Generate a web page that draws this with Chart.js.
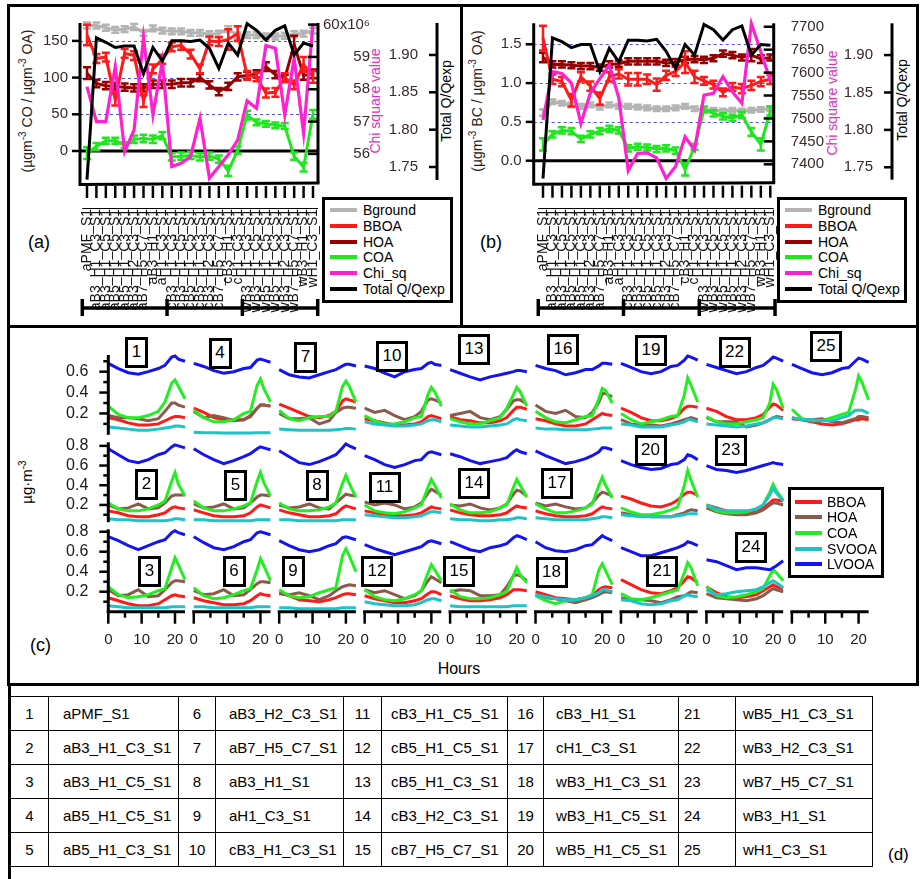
<!DOCTYPE html>
<html>
<head>
<meta charset="utf-8">
<title>PMF solution diagnostics</title>
<script src="https://cdn.jsdelivr.net/npm/chart.js@4.4.1/dist/chart.umd.min.js"></script>
<style>
  html,body{margin:0;padding:0;background:#fff;}
  body{position:relative;width:922px;height:879px;overflow:hidden;font-family:"Liberation Sans",Arial,sans-serif;color:#000;}
  canvas{position:absolute;display:block;}
  .frame{position:absolute;border:3px solid #000;box-sizing:border-box;}
  .lbl{position:absolute;white-space:nowrap;line-height:1;}
  .vt{position:absolute;white-space:nowrap;line-height:1;transform:translate(-50%,-50%) rotate(-90deg);}
  .vt sup{font-size:10px;vertical-align:6px;line-height:0;}
  .legend{position:absolute;border:3px solid #000;box-sizing:border-box;background:#fff;z-index:3;}
  .legend span{position:absolute;white-space:nowrap;font-size:14px;line-height:1;transform:translateY(-50%);}
  .legend i{position:absolute;height:4px;transform:translateY(-50%);}
  .num{position:absolute;border:3px solid #000;box-sizing:border-box;background:#fff;font-size:17px;display:flex;align-items:center;justify-content:center;z-index:3;}
  table.runs{position:absolute;border-collapse:collapse;font-size:15px;table-layout:fixed;}
  table.runs td{border:1px solid #000;height:34px;padding:0;box-sizing:border-box;white-space:nowrap;}
</style>
</head>
<body>
<div class="frame" style="left:7px;top:4px;width:456px;height:324px"></div>
<div class="frame" style="left:460px;top:4px;width:459px;height:324px"></div>
<div class="frame" style="left:7px;top:325px;width:912px;height:361px"></div>
<div style="position:absolute;left:8px;top:684px;width:3px;height:195px;background:#000"></div>

<div class="lbl" style="left:28px;top:233px;font-size:18px">(a)</div>
<div class="lbl" style="left:480px;top:233px;font-size:18px">(b)</div>
<div class="lbl" style="left:30px;top:636px;font-size:18px">(c)</div>
<div class="lbl" style="left:888px;top:846px;font-size:17px">(d)</div>
<div class="lbl" style="left:459px;top:661px;font-size:16px;transform:translateX(-50%)">Hours</div>

<div class="vt" style="left:27px;top:101px;font-size:14px;color:#2a1a18">(µgm<sup>-3</sup> CO / µgm<sup>-3</sup> OA)</div>
<div class="vt" style="left:375px;top:101px;font-size:14px;color:#e030c0">Chi square value</div>
<div class="vt" style="left:446px;top:101px;font-size:14px">Total Q/Qexp</div>
<div class="vt" style="left:477px;top:101px;font-size:14px;color:#2a1a18">(µgm<sup>-3</sup> BC / µgm<sup>-3</sup> OA)</div>
<div class="vt" style="left:832px;top:103px;font-size:14px;color:#e030c0">Chi square value</div>
<div class="vt" style="left:902px;top:100px;font-size:14px">Total Q/Qexp</div>
<div class="vt" style="left:26px;top:482px;font-size:15px">µg·m<sup>-3</sup></div>

<script>
// ---------- run names (x categories of panels a/b, table d) ----------
const runNames = [
  'aPMF_S1','aB3_H1_C3_S1','aB3_H1_C5_S1','aB5_H1_C5_S1','aB5_H1_C3_S1',
  'aB3_H2_C3_S1','aB7_H5_C7_S1','aB3_H1_S1','aH1_C3_S1','cB3_H1_C3_S1',
  'cB3_H1_C5_S1','cB5_H1_C5_S1','cB5_H1_C3_S1','cB3_H2_C3_S1','cB7_H5_C7_S1',
  'cB3_H1_S1','cH1_C3_S1','wB3_H1_C3_S1','wB3_H1_C5_S1','wB5_H1_C5_S1',
  'wB5_H1_C3_S1','wB3_H2_C3_S1','wB7_H5_C7_S1','wB3_H1_S1','wH1_C3_S1'
];
// group boundaries (a-, c-, w- runs) in category units
const groupEdges = [-0.5, 8.5, 16.5, 24.5];

// ---------- panel (a): ratios to CO ----------
const coBground = [171,171,168,165,166,169,161,167,164,163,163,161,161,159,160,166,157,158,158,156,156,157,159,160,164];
const coBgErr   = [4,4,4,4,4,4,4,4,4,4,4,4,4,4,4,4,4,4,4,4,4,4,4,4,4];
const coBBOA    = [158,126,128,70,133,130,68,112,125,142,144,132,112,150,149,152,160,103,101,79,80,100,90,118,101];
const coBBOAErr = [14,6,6,8,6,6,8,6,6,6,6,6,6,6,6,14,10,6,6,6,6,6,6,10,8];
const coHOA     = [106,92,89,88,87,86,86,91,91,91,93,93,100,90,81,88,101,103,105,115,104,99,145,103,105];
const coHOAErr  = [8,5,5,5,5,5,5,5,5,5,5,5,5,5,5,5,5,5,5,6,5,5,12,6,6];
const coCOA     = [-3,6,14,14,8,16,17,16,21,-8,-7,-6,-8,-7,-11,-27,1,49,39,37,35,34,-7,-22,50];
const coCOAErr  = [8,5,4,4,4,5,5,5,5,5,5,5,5,5,5,7,5,6,4,4,4,4,5,6,6];
const chiCO     = [58.08,57.0,57.0,58.70,56.07,56.74,59.60,57.21,58.86,55.61,55.71,55.92,57.10,55.25,55.61,55.97,56.43,57.64,57.41,59.35,59.27,57.21,58.96,56.64,60.04];
const qCO       = [1.733,1.923,1.917,1.910,1.912,1.912,1.875,1.910,1.892,1.919,1.919,1.918,1.920,1.909,1.882,1.916,1.900,1.942,1.933,1.920,1.933,1.939,1.900,1.916,1.912];

// ---------- panel (b): ratios to BC ----------
const bcBground = [0.62,0.76,0.74,0.72,0.70,0.72,0.69,0.72,0.70,0.70,0.69,0.68,0.67,0.67,0.68,0.70,0.67,0.66,0.65,0.64,0.65,0.64,0.65,0.66,0.67];
const bcBgErr   = [0.04,0.03,0.03,0.03,0.03,0.03,0.03,0.03,0.03,0.03,0.03,0.03,0.03,0.03,0.03,0.03,0.03,0.03,0.03,0.03,0.03,0.03,0.03,0.03,0.03];
const bcBBOA    = [1.58,1.05,1.02,0.78,1.08,0.96,0.80,1.08,1.12,1.05,1.05,1.05,0.98,1.10,1.15,1.27,1.08,1.03,0.98,0.88,0.95,0.93,0.97,1.02,1.05];
const bcBBOAErr = [0.16,0.06,0.06,0.08,0.06,0.06,0.08,0.06,0.06,0.08,0.08,0.06,0.08,0.06,0.06,0.14,0.08,0.05,0.05,0.05,0.05,0.06,0.06,0.06,0.06];
const bcHOA     = [1.33,1.24,1.24,1.23,1.22,1.22,1.20,1.24,1.25,1.28,1.28,1.28,1.28,1.26,1.27,1.30,1.31,1.30,1.32,1.38,1.36,1.33,1.36,1.31,1.33];
const bcHOAErr  = [0.06,0.04,0.04,0.04,0.04,0.04,0.04,0.04,0.04,0.04,0.04,0.04,0.04,0.04,0.04,0.04,0.04,0.04,0.04,0.04,0.04,0.04,0.08,0.05,0.04];
const bcCOA     = [0.21,0.34,0.39,0.38,0.28,0.34,0.38,0.41,0.39,0.16,0.18,0.17,0.15,0.16,0.13,-0.11,0.18,0.66,0.61,0.57,0.55,0.59,0.37,0.21,0.64];
const bcCOAErr  = [0.08,0.04,0.04,0.04,0.04,0.04,0.04,0.04,0.04,0.04,0.04,0.04,0.04,0.04,0.04,0.08,0.04,0.04,0.04,0.04,0.04,0.04,0.05,0.08,0.06];
const chiBC     = [7497,7602,7598,7577,7489,7555,7587,7616,7545,7386,7424,7425,7414,7369,7395,7460,7431,7551,7555,7591,7558,7533,7707,7646,7582];
const qBC       = [1.735,1.923,1.918,1.910,1.914,1.914,1.878,1.909,1.891,1.920,1.920,1.919,1.921,1.905,1.882,1.914,1.900,1.941,1.934,1.920,1.934,1.939,1.900,1.914,1.913];

// ---------- tick values / labels ----------
const coTicks = [0,50,100,150];
const bcTicks = [0,0.5,1.0,1.5];
const chiCOTicks = [56,57,58,59,60];
const chiCOLabels = ['56','57','58','59','60x10\u2076'];
const chiBCTicks = [7400,7450,7500,7550,7600,7650,7700];
const qTicks = [1.75,1.80,1.85,1.90];
const ugMajor = [0.2,0.4,0.6,0.8];
const ugMinor = [0.1,0.3,0.5,0.7];
const hourMajor = [0,10,20];
const hourMinor = [5,15];

// ---------- panel (c): diurnal profiles, one row per run (µg m-3) ----------
const panelHours = [0,3,6,9,12,15,17,19,20,21,23];
const BBOA = [
  [0.16,0.14,0.11,0.09,0.09,0.10,0.13,0.16,0.17,0.17,0.16],
  [0.14,0.12,0.09,0.08,0.08,0.10,0.12,0.17,0.18,0.17,0.16],
  [0.14,0.11,0.08,0.06,0.06,0.08,0.12,0.16,0.17,0.16,0.15],
  [0.25,0.21,0.16,0.14,0.14,0.14,0.17,0.25,0.28,0.28,0.27],
  [0.15,0.12,0.09,0.08,0.08,0.09,0.12,0.18,0.20,0.19,0.17],
  [0.14,0.11,0.09,0.07,0.07,0.08,0.11,0.16,0.18,0.17,0.16],
  [0.29,0.25,0.21,0.17,0.16,0.18,0.22,0.32,0.34,0.33,0.31],
  [0.15,0.12,0.10,0.08,0.08,0.09,0.11,0.17,0.19,0.18,0.16],
  [0.19,0.16,0.12,0.11,0.10,0.12,0.14,0.17,0.18,0.18,0.17],
  [0.15,0.13,0.11,0.09,0.09,0.10,0.12,0.17,0.18,0.17,0.15],
  [0.14,0.12,0.10,0.09,0.09,0.10,0.12,0.16,0.18,0.17,0.16],
  [0.16,0.13,0.11,0.09,0.09,0.11,0.13,0.18,0.20,0.20,0.17],
  [0.17,0.14,0.13,0.11,0.11,0.13,0.16,0.23,0.26,0.26,0.24],
  [0.15,0.12,0.10,0.09,0.09,0.10,0.12,0.17,0.19,0.18,0.17],
  [0.16,0.13,0.11,0.11,0.12,0.14,0.17,0.22,0.22,0.22,0.21],
  [0.15,0.13,0.10,0.08,0.08,0.10,0.14,0.18,0.20,0.19,0.18],
  [0.14,0.11,0.09,0.08,0.08,0.09,0.11,0.16,0.18,0.17,0.16],
  [0.20,0.17,0.14,0.13,0.12,0.14,0.16,0.22,0.24,0.25,0.24],
  [0.25,0.21,0.16,0.13,0.13,0.15,0.18,0.25,0.27,0.27,0.26],
  [0.29,0.26,0.22,0.19,0.18,0.21,0.25,0.31,0.33,0.33,0.30],
  [0.32,0.27,0.22,0.19,0.18,0.21,0.24,0.31,0.35,0.34,0.29],
  [0.25,0.22,0.17,0.14,0.14,0.16,0.19,0.26,0.29,0.28,0.23],
  [0.20,0.17,0.14,0.12,0.12,0.15,0.17,0.22,0.25,0.25,0.24],
  [0.25,0.19,0.15,0.14,0.15,0.17,0.21,0.25,0.27,0.25,0.23],
  [0.15,0.14,0.12,0.10,0.09,0.10,0.12,0.14,0.14,0.15,0.14]
];
const HOA = [
  [0.18,0.16,0.16,0.15,0.13,0.15,0.22,0.30,0.30,0.28,0.26],
  [0.20,0.16,0.17,0.21,0.16,0.17,0.22,0.29,0.30,0.30,0.30],
  [0.22,0.16,0.17,0.22,0.15,0.16,0.22,0.29,0.31,0.31,0.30],
  [0.22,0.16,0.18,0.16,0.13,0.14,0.18,0.25,0.28,0.28,0.27],
  [0.21,0.17,0.18,0.21,0.16,0.17,0.22,0.28,0.30,0.30,0.29],
  [0.21,0.17,0.18,0.22,0.16,0.17,0.22,0.28,0.30,0.30,0.29],
  [0.20,0.15,0.15,0.16,0.10,0.13,0.21,0.25,0.26,0.26,0.25],
  [0.20,0.17,0.18,0.21,0.17,0.16,0.22,0.28,0.31,0.30,0.29],
  [0.18,0.17,0.19,0.16,0.12,0.16,0.21,0.25,0.26,0.27,0.26],
  [0.25,0.21,0.23,0.18,0.14,0.17,0.22,0.33,0.34,0.33,0.30],
  [0.23,0.20,0.22,0.20,0.16,0.18,0.22,0.32,0.36,0.34,0.30],
  [0.22,0.19,0.21,0.17,0.13,0.16,0.21,0.31,0.35,0.33,0.29],
  [0.18,0.20,0.22,0.16,0.14,0.17,0.24,0.32,0.33,0.33,0.29],
  [0.20,0.19,0.21,0.17,0.15,0.17,0.21,0.31,0.35,0.34,0.29],
  [0.20,0.22,0.21,0.16,0.16,0.17,0.25,0.36,0.37,0.36,0.31],
  [0.28,0.22,0.20,0.23,0.17,0.16,0.21,0.31,0.39,0.39,0.36],
  [0.22,0.19,0.21,0.18,0.16,0.17,0.22,0.30,0.33,0.32,0.29],
  [0.17,0.14,0.13,0.11,0.09,0.12,0.14,0.17,0.19,0.20,0.19],
  [0.14,0.10,0.09,0.09,0.08,0.10,0.12,0.14,0.15,0.16,0.14],
  [0.12,0.10,0.09,0.08,0.08,0.08,0.10,0.12,0.14,0.15,0.14],
  [0.14,0.12,0.12,0.11,0.09,0.12,0.15,0.16,0.18,0.20,0.19],
  [0.16,0.12,0.12,0.12,0.07,0.09,0.11,0.14,0.16,0.17,0.16],
  [0.17,0.13,0.11,0.10,0.10,0.12,0.15,0.20,0.22,0.22,0.20],
  [0.18,0.14,0.13,0.12,0.11,0.13,0.16,0.21,0.23,0.22,0.20],
  [0.16,0.14,0.14,0.15,0.12,0.11,0.13,0.15,0.17,0.17,0.16]
];
const COA = [
  [0.27,0.19,0.16,0.16,0.18,0.22,0.31,0.49,0.52,0.46,0.34],
  [0.22,0.16,0.14,0.14,0.16,0.20,0.24,0.44,0.53,0.41,0.29],
  [0.25,0.17,0.14,0.15,0.17,0.21,0.23,0.44,0.54,0.47,0.32],
  [0.23,0.16,0.12,0.12,0.14,0.20,0.22,0.47,0.53,0.44,0.31],
  [0.24,0.17,0.14,0.14,0.16,0.19,0.22,0.44,0.53,0.43,0.29],
  [0.24,0.16,0.13,0.14,0.17,0.21,0.23,0.42,0.53,0.46,0.31],
  [0.23,0.15,0.13,0.16,0.17,0.17,0.22,0.46,0.51,0.46,0.31],
  [0.22,0.16,0.14,0.14,0.15,0.18,0.22,0.42,0.50,0.42,0.28],
  [0.22,0.16,0.14,0.15,0.19,0.22,0.24,0.56,0.63,0.56,0.40],
  [0.18,0.13,0.10,0.10,0.12,0.16,0.17,0.38,0.45,0.41,0.27],
  [0.20,0.14,0.12,0.11,0.13,0.17,0.20,0.38,0.46,0.40,0.27],
  [0.22,0.15,0.12,0.11,0.13,0.17,0.21,0.39,0.47,0.42,0.31],
  [0.15,0.12,0.10,0.10,0.13,0.16,0.25,0.38,0.45,0.41,0.27],
  [0.21,0.15,0.12,0.12,0.13,0.17,0.20,0.38,0.46,0.40,0.28],
  [0.22,0.15,0.13,0.13,0.14,0.17,0.20,0.36,0.44,0.37,0.29],
  [0.22,0.16,0.12,0.11,0.14,0.17,0.18,0.34,0.44,0.42,0.30],
  [0.21,0.16,0.12,0.12,0.14,0.17,0.21,0.40,0.48,0.40,0.27],
  [0.16,0.11,0.08,0.11,0.12,0.14,0.17,0.42,0.48,0.41,0.27],
  [0.20,0.14,0.10,0.12,0.14,0.17,0.18,0.38,0.54,0.47,0.31],
  [0.17,0.13,0.10,0.10,0.12,0.15,0.18,0.40,0.55,0.45,0.28],
  [0.18,0.13,0.12,0.14,0.17,0.20,0.22,0.39,0.49,0.44,0.26],
  [0.17,0.12,0.10,0.10,0.12,0.14,0.16,0.30,0.48,0.43,0.25],
  [0.20,0.14,0.12,0.12,0.13,0.16,0.20,0.33,0.41,0.34,0.25],
  [0.25,0.16,0.14,0.15,0.17,0.20,0.23,0.36,0.42,0.39,0.31],
  [0.24,0.15,0.13,0.13,0.16,0.19,0.21,0.42,0.56,0.50,0.33]
];
const SVOOA = [
  [0.07,0.06,0.05,0.04,0.04,0.05,0.06,0.07,0.08,0.08,0.07],
  [0.06,0.05,0.05,0.04,0.04,0.04,0.04,0.05,0.06,0.06,0.05],
  [0.06,0.05,0.04,0.04,0.04,0.04,0.04,0.05,0.05,0.05,0.05],
  [0.02,0.015,0.015,0.012,0.012,0.012,0.012,0.015,0.015,0.015,0.015],
  [0.05,0.05,0.04,0.04,0.04,0.04,0.04,0.05,0.05,0.05,0.05],
  [0.05,0.05,0.04,0.04,0.04,0.04,0.04,0.05,0.05,0.05,0.05],
  [0.05,0.045,0.04,0.04,0.04,0.04,0.045,0.05,0.055,0.055,0.05],
  [0.05,0.05,0.04,0.04,0.04,0.04,0.04,0.05,0.05,0.05,0.05],
  [0.04,0.04,0.03,0.03,0.03,0.03,0.03,0.04,0.04,0.04,0.04],
  [0.12,0.10,0.09,0.08,0.08,0.09,0.10,0.13,0.14,0.14,0.12],
  [0.10,0.09,0.08,0.07,0.07,0.08,0.09,0.12,0.13,0.13,0.12],
  [0.10,0.08,0.07,0.06,0.06,0.07,0.09,0.12,0.13,0.13,0.11],
  [0.09,0.08,0.07,0.07,0.08,0.09,0.10,0.14,0.15,0.14,0.13],
  [0.06,0.05,0.05,0.04,0.04,0.05,0.05,0.06,0.07,0.07,0.06],
  [0.06,0.05,0.05,0.05,0.05,0.05,0.05,0.06,0.06,0.06,0.06],
  [0.06,0.05,0.05,0.045,0.045,0.045,0.05,0.055,0.06,0.06,0.06],
  [0.07,0.06,0.05,0.05,0.05,0.05,0.06,0.07,0.08,0.08,0.07],
  [0.17,0.15,0.13,0.12,0.12,0.14,0.16,0.19,0.22,0.22,0.20],
  [0.10,0.09,0.07,0.07,0.07,0.09,0.10,0.12,0.14,0.14,0.12],
  [0.10,0.09,0.08,0.08,0.08,0.08,0.09,0.10,0.11,0.11,0.11],
  [0.12,0.11,0.08,0.07,0.08,0.11,0.12,0.16,0.17,0.16,0.15],
  [0.10,0.09,0.08,0.07,0.08,0.10,0.11,0.14,0.16,0.16,0.15],
  [0.20,0.16,0.14,0.14,0.14,0.16,0.20,0.30,0.37,0.32,0.24],
  [0.22,0.17,0.18,0.20,0.21,0.22,0.25,0.29,0.31,0.29,0.24],
  [0.16,0.14,0.14,0.13,0.13,0.16,0.18,0.23,0.23,0.23,0.20]
];
const LVOOA = [
  [0.68,0.63,0.59,0.575,0.60,0.63,0.66,0.74,0.75,0.72,0.70],
  [0.77,0.71,0.65,0.63,0.66,0.71,0.73,0.79,0.81,0.80,0.78],
  [0.75,0.71,0.66,0.62,0.66,0.70,0.72,0.79,0.81,0.79,0.77],
  [0.68,0.65,0.61,0.585,0.60,0.63,0.64,0.71,0.72,0.71,0.69],
  [0.77,0.71,0.66,0.62,0.65,0.69,0.72,0.77,0.79,0.78,0.76],
  [0.75,0.69,0.64,0.62,0.65,0.70,0.72,0.79,0.80,0.79,0.77],
  [0.62,0.57,0.55,0.54,0.57,0.60,0.62,0.655,0.67,0.67,0.655],
  [0.75,0.69,0.63,0.61,0.64,0.68,0.71,0.78,0.82,0.80,0.77],
  [0.71,0.66,0.62,0.60,0.62,0.66,0.68,0.74,0.75,0.74,0.72],
  [0.655,0.63,0.585,0.55,0.60,0.62,0.63,0.68,0.69,0.67,0.66],
  [0.70,0.66,0.61,0.58,0.61,0.65,0.66,0.73,0.74,0.73,0.71],
  [0.67,0.63,0.60,0.57,0.60,0.63,0.65,0.70,0.71,0.70,0.68],
  [0.62,0.585,0.55,0.52,0.55,0.57,0.585,0.60,0.61,0.61,0.60],
  [0.72,0.69,0.65,0.62,0.64,0.66,0.68,0.74,0.76,0.74,0.72],
  [0.70,0.66,0.62,0.60,0.64,0.66,0.68,0.74,0.76,0.75,0.72],
  [0.66,0.63,0.61,0.57,0.59,0.62,0.62,0.655,0.68,0.68,0.67],
  [0.75,0.70,0.66,0.62,0.64,0.67,0.70,0.74,0.78,0.78,0.76],
  [0.70,0.64,0.61,0.60,0.62,0.66,0.67,0.73,0.76,0.74,0.71],
  [0.68,0.64,0.60,0.58,0.60,0.65,0.66,0.71,0.75,0.74,0.71],
  [0.65,0.61,0.58,0.56,0.57,0.61,0.62,0.66,0.71,0.70,0.66],
  [0.64,0.60,0.56,0.56,0.59,0.62,0.64,0.67,0.70,0.69,0.66],
  [0.67,0.64,0.61,0.58,0.60,0.64,0.66,0.71,0.74,0.73,0.70],
  [0.60,0.56,0.55,0.53,0.55,0.58,0.60,0.62,0.63,0.62,0.61],
  [0.52,0.50,0.46,0.42,0.44,0.44,0.43,0.42,0.44,0.46,0.51],
  [0.67,0.63,0.59,0.57,0.59,0.63,0.64,0.70,0.73,0.72,0.69]
];

// ---------- colours ----------
const topColors = { Bground:'#b4b4b4', BBOA:'#ff1a1a', HOA:'#960000', COA:'#20e620', Chi_sq:'#ff20d0', Q:'#000000' };
const facColors = { BBOA:'#ff1a1a', HOA:'#8c5a4b', COA:'#22ee22', SVOOA:'#1ec3c8', LVOOA:'#1414f0' };
const TICK_TXT = '#3a2a27';
const FONT = '"Liberation Sans", Arial, sans-serif';
Chart.defaults.font.family = FONT;

const pts = (xs, ys) => ys.map((v, i) => ({ x: xs[i], y: v }));
const idx = runNames.map((_, i) => i);

// error bars drawn right after the line they belong to
const errorBars = {
  id: 'errorBars',
  afterDatasetDraw(chart, args) {
    const ds = chart.data.datasets[args.index];
    if (!ds.errors) return;
    const ys = chart.scales[ds.yAxisID];
    const ctx = chart.ctx;
    ctx.save();
    ctx.strokeStyle = ds.borderColor;
    ctx.lineWidth = 2.5;
    args.meta.data.forEach((pt, i) => {
      const v = ds.data[i].y, e = ds.errors[i];
      const y1 = ys.getPixelForValue(v + e), y2 = ys.getPixelForValue(v - e);
      ctx.beginPath();
      ctx.moveTo(pt.x, y1); ctx.lineTo(pt.x, y2);
      ctx.moveTo(pt.x - 4, y1); ctx.lineTo(pt.x + 4, y1);
      ctx.moveTo(pt.x - 4, y2); ctx.lineTo(pt.x + 4, y2);
      ctx.stroke();
    });
    ctx.restore();
  }
};

// axes, grid and run labels of the two diagnostic panels
function diagAxes(s) {
  return {
    id: 'diagAxes',
    beforeDatasetsDraw(chart) {
      const { ctx, chartArea: a, scales } = chart;
      const y = scales.y;
      ctx.save();
      ctx.strokeStyle = '#5050ff'; ctx.lineWidth = 1; ctx.setLineDash([3, 3]);
      s.gridVals.forEach(v => {
        const py = Math.round(y.getPixelForValue(v)) + 0.5;
        ctx.beginPath(); ctx.moveTo(a.left, py); ctx.lineTo(a.right, py); ctx.stroke();
      });
      ctx.setLineDash([]);
      ctx.strokeStyle = '#000'; ctx.lineWidth = 3;
      const z = y.getPixelForValue(0);
      ctx.beginPath(); ctx.moveTo(a.left, z); ctx.lineTo(a.right, z); ctx.stroke();
      ctx.restore();
    },
    afterDraw(chart) {
      const { ctx, chartArea: a, scales } = chart;
      const ox = s.canvas.left, oy = s.canvas.top;
      ctx.save();
      ctx.strokeStyle = '#000'; ctx.fillStyle = TICK_TXT;
      ctx.lineCap = 'butt';
      ctx.font = '15px ' + FONT;
      ctx.textBaseline = 'middle';
      // left axis
      ctx.lineWidth = 3;
      ctx.beginPath(); ctx.moveTo(a.left, a.top); ctx.lineTo(a.left, a.bottom + 1.5);
      ctx.lineTo(a.right + 1.5, a.bottom); ctx.stroke();
      ctx.textAlign = 'right';
      s.leftTicks.forEach(v => {
        const py = scales.y.getPixelForValue(v);
        ctx.lineWidth = 2.5;
        ctx.beginPath(); ctx.moveTo(a.left - 8, py); ctx.lineTo(a.left, py); ctx.stroke();
        ctx.fillText(s.leftFmt(v), a.left - 12, py);
      });
      // chi-square axis on the right edge of the plot
      ctx.lineWidth = 3;
      ctx.beginPath(); ctx.moveTo(a.right, a.top); ctx.lineTo(a.right, a.bottom); ctx.stroke();
      s.chiTicks.forEach((v, k) => {
        const py = scales.chi.getPixelForValue(v);
        ctx.lineWidth = 2.5;
        ctx.beginPath(); ctx.moveTo(a.right - 10, py); ctx.lineTo(a.right, py); ctx.stroke();
        ctx.fillText(s.chiLabels[k], s.chiLabelRight - ox, py);
      });
      // total Q/Qexp axis
      const qx = s.qAxisX - ox;
      ctx.lineWidth = 3;
      ctx.beginPath(); ctx.moveTo(qx, a.top); ctx.lineTo(qx, a.bottom - 3); ctx.stroke();
      qTicks.forEach(v => {
        const py = scales.q.getPixelForValue(v);
        ctx.lineWidth = 2.5;
        ctx.beginPath(); ctx.moveTo(qx - 8, py); ctx.lineTo(qx, py); ctx.stroke();
        ctx.fillText(v.toFixed(2), qx - 19, py);
      });
      // category ticks
      const xs = scales.x;
      ctx.lineWidth = 2.5;
      idx.forEach(i => {
        const px = xs.getPixelForValue(i);
        ctx.beginPath(); ctx.moveTo(px, a.bottom + 3); ctx.lineTo(px, a.bottom + 15); ctx.stroke();
      });
      // rotated run names
      const labTop = 209 - oy;
      ctx.lineWidth = 1;
      ctx.beginPath(); ctx.moveTo(xs.getPixelForValue(-0.5), labTop - 0.5); ctx.lineTo(a.right, labTop - 0.5); ctx.stroke();
      ctx.fillStyle = '#111';
      ctx.font = '14px ' + FONT;
      ctx.textAlign = 'right';
      idx.forEach(i => {
        const px = xs.getPixelForValue(i);
        ctx.save();
        ctx.translate(px, labTop);
        ctx.rotate(-Math.PI / 2);
        ctx.fillText(runNames[i], 0, 0);
        ctx.restore();
      });
      // group bracket
      const by = 308 - oy;
      ctx.lineWidth = 3.5;
      ctx.beginPath();
      ctx.moveTo(xs.getPixelForValue(groupEdges[0]), by);
      ctx.lineTo(xs.getPixelForValue(groupEdges[groupEdges.length - 1]), by);
      ctx.stroke();
      groupEdges.forEach(g => {
        const px = xs.getPixelForValue(g);
        ctx.beginPath(); ctx.moveTo(px, by - 9); ctx.lineTo(px, by + 8); ctx.stroke();
      });
      ctx.restore();
    }
  };
}

function diagPanel(s) {
  const cv = document.createElement('canvas');
  cv.width = s.canvas.width; cv.height = s.canvas.height;
  cv.style.left = s.canvas.left + 'px'; cv.style.top = s.canvas.top + 'px';
  document.body.appendChild(cv);
  const line = (label, data, color, axis, width, errors) => ({
    label, data: pts(idx, data), borderColor: color, backgroundColor: color,
    borderWidth: width, yAxisID: axis, errors, pointRadius: 0, tension: 0, clip: 6
  });
  const A = s.area;
  new Chart(cv, {
    type: 'line',
    data: {
      datasets: [
        line('Total Q/Qexp', s.q, topColors.Q, 'q', 3),
        line('Chi_sq', s.chi, topColors.Chi_sq, 'chi', 3.2),
        line('COA', s.coa, topColors.COA, 'y', 3, s.coaErr),
        line('BBOA', s.bboa, topColors.BBOA, 'y', 3, s.bboaErr),
        line('HOA', s.hoa, topColors.HOA, 'y', 3, s.hoaErr),
        line('Bground', s.bg, topColors.Bground, 'y', 3, s.bgErr)
      ]
    },
    options: {
      responsive: false, animation: false, devicePixelRatio: 1, events: [],
      layout: { padding: {
        left: A.left - s.canvas.left, right: s.canvas.left + s.canvas.width - A.right,
        top: A.top - s.canvas.top, bottom: s.canvas.top + s.canvas.height - A.bottom } },
      scales: {
        x: { type: 'linear', min: s.xMin, max: s.xMax, display: false },
        y: { type: 'linear', min: s.yMin, max: s.yMax, display: false },
        chi: { type: 'linear', position: 'right', min: s.chiMin, max: s.chiMax, display: false },
        q: { type: 'linear', position: 'right', min: s.qMin, max: s.qMax, display: false }
      },
      plugins: { legend: { display: false }, tooltip: { enabled: false } }
    },
    plugins: [errorBars, diagAxes(s)]
  });
}

diagPanel({
  canvas: { left: 0, top: 0, width: 462, height: 327 },
  area: { left: 80, right: 318, top: 23, bottom: 183 },
  xMin: -0.743, xMax: 24.531, yMin: -43.6, yMax: 174.4,
  chiMin: 55.10, chiMax: 60.05, qMin: 1.7286, qMax: 1.9428,
  leftTicks: coTicks, leftFmt: v => String(v), gridVals: [50, 100, 150],
  chiTicks: chiCOTicks, chiLabels: chiCOLabels, chiLabelRight: 370, qAxisX: 437,
  bg: coBground, bgErr: coBgErr, bboa: coBBOA, bboaErr: coBBOAErr,
  hoa: coHOA, hoaErr: coHOAErr, coa: coCOA, coaErr: coCOAErr, chi: chiCO, q: qCO
});
diagPanel({
  canvas: { left: 462, top: 0, width: 456, height: 327 },
  area: { left: 533.7, right: 773.7, top: 23.3, bottom: 182.7 },
  xMin: -0.982, xMax: 24.359, yMin: -0.2835, yMax: 1.7706,
  chiMin: 7359.9, chiMax: 7707.5, qMin: 1.7294, qMax: 1.9425,
  leftTicks: bcTicks, leftFmt: v => v.toFixed(1), gridVals: [0.5, 1.0, 1.5],
  chiTicks: chiBCTicks, chiLabels: chiBCTicks.map(String), chiLabelRight: 824, qAxisX: 892,
  bg: bcBground, bgErr: bcBgErr, bboa: bcBBOA, bboaErr: bcBBOAErr,
  hoa: bcHOA, hoaErr: bcHOAErr, coa: bcCOA, coaErr: bcCOAErr, chi: chiBC, q: qBC
});

// ---------- panel (c): small multiples ----------
const ROWS = [
  { top: 356, bottom: 433.3, min: 0.01, max: 0.75 },
  { top: 443.3, bottom: 520.7, min: 0.04, max: 0.826 },
  { top: 530.3, bottom: 611.7, min: 0.0, max: 0.814 }
];
const COL0 = 108.3, COLSTEP = 85.45, COLW = 76.7;

function miniAxes(col, row) {
  return {
    id: 'miniAxes',
    afterDraw(chart) {
      const { ctx, chartArea: a, scales } = chart;
      ctx.save();
      ctx.strokeStyle = '#000'; ctx.fillStyle = '#1a1a1a';
      if (col === 0) {
        const y = scales.y;
        ctx.font = '16px ' + FONT;
        ctx.lineWidth = 3;
        ctx.beginPath(); ctx.moveTo(a.left, a.top - 1); ctx.lineTo(a.left, a.bottom + 1.5); ctx.stroke();
        ctx.lineWidth = 2.5;
        ugMinor.filter(v => v >= y.min && v <= y.max).forEach(v => {
          const py = y.getPixelForValue(v);
          ctx.beginPath(); ctx.moveTo(a.left - 5, py); ctx.lineTo(a.left, py); ctx.stroke();
        });
        ctx.textAlign = 'right'; ctx.textBaseline = 'middle';
        ugMajor.filter(v => v >= y.min && v <= y.max).forEach(v => {
          const py = y.getPixelForValue(v);
          ctx.beginPath(); ctx.moveTo(a.left - 9, py); ctx.lineTo(a.left, py); ctx.stroke();
          ctx.fillText(v.toFixed(1), a.left - 20, py);
        });
      }
      if (row === 2) {
        const x = scales.x;
        ctx.font = '15px ' + FONT;
        ctx.lineWidth = 3;
        ctx.beginPath(); ctx.moveTo(a.left - 1.5, a.bottom); ctx.lineTo(a.right, a.bottom); ctx.stroke();
        ctx.lineWidth = 2.5;
        hourMinor.forEach(h => {
          const px = x.getPixelForValue(h);
          ctx.beginPath(); ctx.moveTo(px, a.bottom); ctx.lineTo(px, a.bottom + 6); ctx.stroke();
        });
        ctx.textAlign = 'center'; ctx.textBaseline = 'middle';
        hourMajor.forEach(h => {
          const px = x.getPixelForValue(h);
          ctx.beginPath(); ctx.moveTo(px, a.bottom); ctx.lineTo(px, a.bottom + 12); ctx.stroke();
          ctx.fillText(String(h), px, a.bottom + 28);
        });
      }
      ctx.restore();
    }
  };
}

function miniChart(run, col, row) {
  const R = ROWS[row];
  const plotL = COL0 + col * COLSTEP, plotR = plotL + COLW;
  const left = Math.floor(plotL - (col === 0 ? 72 : 8));
  const top = Math.floor(R.top - 8);
  const right = Math.ceil(plotR + 6);
  const bottom = Math.ceil(R.bottom + (row === 2 ? 42 : 8));
  const cv = document.createElement('canvas');
  cv.width = right - left; cv.height = bottom - top;
  cv.style.left = left + 'px'; cv.style.top = top + 'px';
  document.body.appendChild(cv);
  const k = run - 1;
  const ser = (name, arr) => ({
    label: name, data: pts(panelHours, arr[k]), borderColor: facColors[name],
    borderWidth: 3, pointRadius: 0, tension: 0, clip: 8
  });
  const datasets = run ? [
    ser('LVOOA', LVOOA), ser('SVOOA', SVOOA), ser('COA', COA), ser('HOA', HOA), ser('BBOA', BBOA)
  ] : [];
  new Chart(cv, {
    type: 'line',
    data: { datasets },
    options: {
      responsive: false, animation: false, devicePixelRatio: 1, events: [],
      layout: { padding: { left: plotL - left, right: right - plotR, top: R.top - top, bottom: bottom - R.bottom } },
      scales: {
        x: { type: 'linear', min: 0, max: 23, display: false },
        y: { type: 'linear', min: R.min, max: R.max, display: false }
      },
      plugins: { legend: { display: false }, tooltip: { enabled: false } }
    },
    plugins: [miniAxes(col, row)]
  });
}

for (let run = 1; run <= 25; run++) {
  miniChart(run, Math.floor((run - 1) / 3), (run - 1) % 3);
}
miniChart(0, 8, 2); // axis only, no run in this slot

// run-number tags [centre x, centre y]
const tagPos = {
  1:[136.5,352], 2:[146.5,484], 3:[149.5,571], 4:[220,353], 5:[235.5,485], 6:[234,571],
  7:[305.5,357], 8:[317,485], 9:[293,571], 10:[392,356], 11:[384.5,487], 12:[377,571],
  13:[474,349], 14:[474,483], 15:[459,571], 16:[563,349], 17:[557,483], 18:[551.5,572],
  19:[651,350], 20:[650.5,450], 21:[662,571], 22:[734.5,352], 23:[731,450], 24:[751,547], 25:[826,346]
};
Object.keys(tagPos).forEach(n => {
  const [cx, cy] = tagPos[n];
  const w = n.length > 1 ? 32 : 23, h = 31;
  const d = document.createElement('div');
  d.className = 'num';
  d.style.left = (cx - w / 2) + 'px'; d.style.top = (cy - h / 2) + 'px';
  d.style.width = w + 'px'; d.style.height = h + 'px';
  d.textContent = n;
  document.body.appendChild(d);
});

// ---------- legends ----------
function legend(box, names, colors, firstY, step, sampleX, textX) {
  const d = document.createElement('div');
  d.className = 'legend';
  Object.assign(d.style, { left: box[0] + 'px', top: box[1] + 'px', width: box[2] + 'px', height: box[3] + 'px' });
  names.forEach((nm, k) => {
    const cy = firstY + k * step - box[1] - 3;
    const i = document.createElement('i');
    Object.assign(i.style, { left: (sampleX - box[0] - 3) + 'px', top: cy + 'px', width: '27px', background: colors[k] });
    const s = document.createElement('span');
    Object.assign(s.style, { left: (textX - box[0] - 3) + 'px', top: cy + 'px' });
    s.textContent = nm;
    d.appendChild(i); d.appendChild(s);
  });
  document.body.appendChild(d);
}
const topLegendNames = ['Bground', 'BBOA', 'HOA', 'COA', 'Chi_sq', 'Total Q/Qexp'];
const topLegendColors = [topColors.Bground, topColors.BBOA, topColors.HOA, topColors.COA, topColors.Chi_sq, topColors.Q];
legend([322, 197, 131, 106], topLegendNames, topLegendColors, 210, 15.8, 330, 363);
legend([777, 197, 130, 106], topLegendNames, topLegendColors, 210, 15.8, 785, 818);
const facNames = ['BBOA', 'HOA', 'COA', 'SVOOA', 'LVOOA'];
legend([788, 487, 96, 91], facNames, facNames.map(n => facColors[n]), 501.7, 15.6, 795, 827);

// ---------- table (d): run number -> run name ----------
const tableColW = [38, 130, 37, 128, 38, 126, 36, 135, 57, 137];
const numPad = [null, null, null, null, 5];   // null = centred number
const namePad = [14, 13, 9, 12, 7];
const tbl = document.createElement('table');
tbl.className = 'runs';
Object.assign(tbl.style, { left: '10px', top: '696px', width: '862px' });
const cg = document.createElement('colgroup');
tableColW.forEach(w => { const c = document.createElement('col'); c.style.width = w + 'px'; cg.appendChild(c); });
tbl.appendChild(cg);
for (let r = 0; r < 5; r++) {
  const tr = document.createElement('tr');
  for (let c = 0; c < 5; c++) {
    const n = c * 5 + r + 1;
    const a = document.createElement('td'); a.textContent = n;
    if (numPad[c] === null) a.style.textAlign = 'center'; else a.style.paddingLeft = numPad[c] + 'px';
    const b = document.createElement('td'); b.textContent = runNames[n - 1];
    b.style.paddingLeft = namePad[c] + 'px';
    tr.appendChild(a); tr.appendChild(b);
  }
  tbl.appendChild(tr);
}
document.body.appendChild(tbl);
</script>
</body>
</html>
